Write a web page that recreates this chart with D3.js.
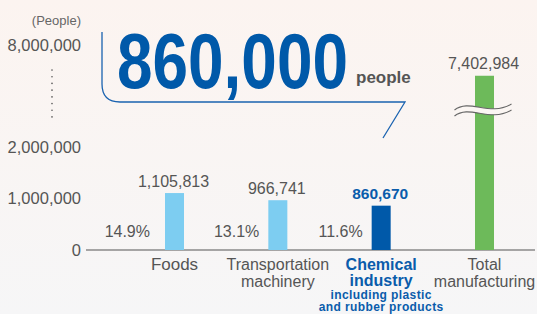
<!DOCTYPE html>
<html>
<head>
<meta charset="utf-8">
<script src="https://cdn.jsdelivr.net/npm/d3@7"></script>
<style>
  body { margin: 0; background: #f8f6f4; }
  text { font-family: "Liberation Sans", Arial, sans-serif; }
</style>
</head>
<body>
<script>
// data
const categories = ["Foods", "Transportation machinery", "Chemical industry", "Total manufacturing"];
const values = [1105813, 966741, 860670, 7402984];
const shares = ["14.9%", "13.1%", "11.6%", null];
const yTicks = [0, 1000000, 2000000, 8000000];
const highlight = "Chemical industry";

let width = 537, height = 314;

let svg = d3.select("body")
    .append("svg")
    .attr("width", width)
    .attr("height", height);

let defs = svg.append("defs");
let grad = defs.append("linearGradient")
    .attr("id", "bg")
    .attr("x1", 0).attr("y1", 0).attr("x2", 0).attr("y2", 1);
grad.append("stop").attr("offset", "0%").attr("stop-color", "#fcf4f0");
grad.append("stop").attr("offset", "100%").attr("stop-color", "#f6f6f7");

svg.append("rect")
    .attr("width", width)
    .attr("height", height)
    .attr("fill", "url(#bg)");

// broken y scale: 0-2M at bottom, 6M-8M on top with the same slope
let y = d3.scaleLinear()
    .domain([0, 2000000, 6020000, 8000000])
    .range([250, 147, 147, 45]);

let x = d3.scalePoint()
    .domain(categories)
    .range([174.5, 484.5]);

let format = d3.format(",");
let barW = 19;
let color = d => d === highlight ? "#0059a9" : (d === "Total manufacturing" ? "#6dba5a" : "#7dcdf1");

// y tick labels
let yAxis = svg.append("g")
    .attr("transform", "translate(81,0)")
    .call(d3.axisLeft(y).tickValues(yTicks).tickSize(0).tickPadding(0).tickFormat(format));
yAxis.select(".domain").remove();
yAxis.selectAll("text")
    .attr("font-size", 16.5)
    .attr("font-family", "Liberation Sans, Arial, sans-serif")
    .attr("fill", "#555");

svg.append("text")
    .attr("x", 81).attr("y", 25)
    .attr("text-anchor", "end")
    .attr("font-size", 13)
    .attr("fill", "#666")
    .text("(People)");

// dotted break on the axis
svg.append("line")
    .attr("x1", 52).attr("x2", 52)
    .attr("y1", 70).attr("y2", 123)
    .attr("stroke", "#555")
    .attr("stroke-width", 1.6)
    .attr("stroke-linecap", "round")
    .attr("stroke-dasharray", "0.1,6.6");

// baseline
svg.append("line")
    .attr("x1", 86).attr("x2", 535)
    .attr("y1", y(0)).attr("y2", y(0))
    .attr("stroke", "#555")
    .attr("stroke-width", 1.2);

// bars
svg.append("g")
    .selectAll("rect")
    .data(categories)
    .enter().append("rect")
    .attr("x", d => x(d) - barW / 2)
    .attr("width", barW)
    .attr("y", (d, i) => y(values[i]))
    .attr("height", (d, i) => y(0) - y(values[i]))
    .attr("fill", color);

// value labels
svg.append("g")
    .selectAll("text")
    .data(categories)
    .enter().append("text")
    .attr("x", d => x(d) - 1)
    .attr("y", (d, i) => y(values[i]) - 6.5)
    .attr("text-anchor", "middle")
    .attr("font-size", d => d === highlight ? 15.5 : 16)
    .attr("font-weight", d => d === highlight ? "bold" : "normal")
    .attr("fill", d => d === highlight ? "#0a5cab" : "#555")
    .text((d, i) => format(values[i]));

// share labels
svg.append("g")
    .selectAll("text")
    .data(categories.filter((d, i) => shares[i]))
    .enter().append("text")
    .attr("x", (d, i) => x(d) - (i === 0 ? 24.5 : 18.5))
    .attr("y", 237)
    .attr("text-anchor", "end")
    .attr("font-size", 16)
    .attr("fill", "#555")
    .text((d, i) => shares[i]);

// category labels
let catLines = {
    "Foods": [{t: "Foods", s: 17, w: "normal", c: "#555", dy: 0, ls: 0}],
    "Transportation machinery": [
        {t: "Transportation", s: 16, w: "normal", c: "#555", dy: 0, ls: 0},
        {t: "machinery", s: 16, w: "normal", c: "#555", dy: 17, ls: 0}],
    "Chemical industry": [
        {t: "Chemical", s: 16, w: "bold", c: "#0a5cab", dy: -0.5, ls: 0},
        {t: "industry", s: 16, w: "bold", c: "#0a5cab", dy: 16, ls: 0},
        {t: "including plastic", s: 12, w: "bold", c: "#0a5cab", dy: 28.5, ls: 0.4},
        {t: "and rubber products", s: 12, w: "bold", c: "#0a5cab", dy: 41, ls: 0.4}],
    "Total manufacturing": [
        {t: "Total", s: 16, w: "normal", c: "#555", dy: 0, ls: 0},
        {t: "manufacturing", s: 16, w: "normal", c: "#555", dy: 17, ls: 0}]
};

categories.forEach(function(d) {
    svg.append("g")
        .selectAll("text")
        .data(catLines[d])
        .enter().append("text")
        .attr("x", x(d))
        .attr("y", l => 270 + l.dy)
        .attr("text-anchor", "middle")
        .attr("font-size", l => l.s)
        .attr("font-weight", l => l.w)
        .attr("letter-spacing", l => l.ls)
        .attr("fill", l => l.c)
        .text(l => l.t);
});

// wave break on the total bar
let bx = x("Total manufacturing");
let wave = (o) => `M${bx - 30},${110 + o} C${bx - 15},${98 + o} ${bx + 5},${117 + o} ${bx + 27},${104 + o}`;
svg.append("path")
    .attr("d", `M${bx - 30},110 C${bx - 15},98 ${bx + 5},117 ${bx + 27},104 L${bx + 27},110 C${bx + 5},123 ${bx - 15},104 ${bx - 30},116 Z`)
    .attr("fill", "#fbf6f3");
[0, 6].forEach(function(o) {
    svg.append("path")
        .attr("d", wave(o))
        .attr("fill", "none")
        .attr("stroke", "#666")
        .attr("stroke-width", 1.1);
});

// callout
svg.append("path")
    .attr("d", "M102,32 L102,84 Q102,102 120,102 L405,102 L383,138")
    .attr("fill", "none")
    .attr("stroke", "#1a63b0")
    .attr("stroke-width", 1.3);

// big number, squeezed horizontally like a condensed face
svg.append("g")
    .attr("transform", "translate(117,88) scale(0.83,1)")
    .append("text")
    .attr("font-size", 77)
    .attr("font-weight", "bold")
    .attr("fill", "#0059a9")
    .text(format(860000));

svg.append("text")
    .attr("x", 356).attr("y", 83)
    .attr("font-size", 17)
    .attr("font-weight", "bold")
    .attr("fill", "#555")
    .text("people");
</script>
</body>
</html>
